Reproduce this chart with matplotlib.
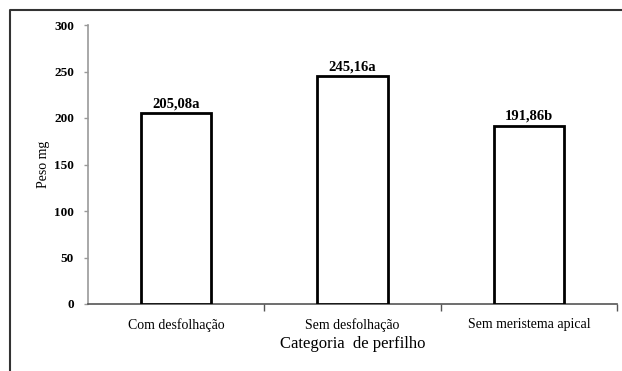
import matplotlib
matplotlib.use("Agg")
import matplotlib.pyplot as plt
from matplotlib.lines import Line2D

categories = ["Com desfolhação", "Sem desfolhação", "Sem meristema apical"]
values = [205.08, 245.16, 191.86]
labels = ["205,08a", "245,16a", "191,86b"]
yticks = [0, 50, 100, 150, 200, 250, 300]

plt.rcParams['font.family'] = ['Liberation Serif', 'DejaVu Serif']

fig = plt.figure(figsize=(6.22, 3.71), dpi=100)
ax = fig.add_axes([88/622, 67/371, (617-88)/622, (304-25)/371])

x = list(range(len(categories)))
ax.bar(x, values, width=0.4, color="white", edgecolor="black", linewidth=2, zorder=3)
for xi, v, lab in zip(x, values, labels):
    ax.text(xi, v + 3, lab, ha="center", va="bottom", fontsize=10.5, fontweight="bold")

ax.set_xlim(-0.5, 2.5)
ax.set_ylim(0, 300)
ax.set_yticks(yticks)
ax.set_yticklabels([str(t) for t in yticks], fontsize=9.5, fontweight="bold")
ax.set_xticks(x)
ax.set_xticklabels(categories, fontsize=10)
ax.tick_params(axis="x", length=0, pad=10)
ax.set_xticks([0.5, 1.5, 2.5], minor=True)
ax.tick_params(axis="x", which="minor", length=5, color="#555555", width=1)
ax.tick_params(axis="y", length=3, color="#999999", width=1, pad=7)

for s in ["top", "right"]:
    ax.spines[s].set_visible(False)
ax.spines["left"].set_color("#999999")
ax.spines["left"].set_linewidth(1.2)
ax.spines["bottom"].set_color("#555555")
ax.spines["bottom"].set_linewidth(1.2)

ax.set_xlabel("Categoria  de perfilho", fontsize=12, labelpad=3)
ax.set_ylabel("Peso mg", fontsize=10, labelpad=6)
ax.yaxis.set_label_coords(-0.072, 0.5)

# outer frame (top and left only visible)
fx = 10/622
fy = 1 - 10/371
fig.add_artist(Line2D([fx, fx, 1.0], [0.0, fy, fy], transform=fig.transFigure,
                      color="#333333", linewidth=1.5))

fig.savefig("out.png", dpi=100)
